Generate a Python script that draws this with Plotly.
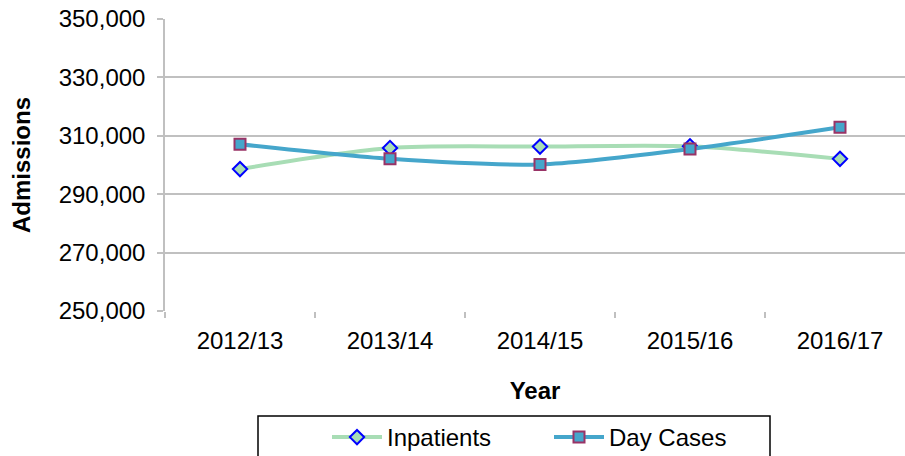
import plotly.graph_objects as go

years = ["2012/13", "2013/14", "2014/15", "2015/16", "2016/17"]
inpatients = [298600, 305800, 306300, 306400, 302100]
day_cases = [307100, 302100, 300200, 305500, 312900]
y_ticks = [250000, 270000, 290000, 310000, 330000, 350000]
y_tick_labels = ["250,000", "270,000", "290,000", "310,000", "330,000", "350,000"]

FONT = "Liberation Sans, Arial, sans-serif"
FS = 24

L, T, PH, PW = 165, 19, 292, 740

fig = go.Figure()
fig.add_trace(go.Scatter(
    x=years, y=inpatients, name="Inpatients", mode="lines+markers",
    line=dict(color="#a8ddb5", width=4, shape="spline", smoothing=0.8),
    marker=dict(symbol="diamond", size=11, color="#a8ddb5",
                line=dict(color="#0000ff", width=2)),
))
fig.add_trace(go.Scatter(
    x=years, y=day_cases, name="Day Cases", mode="lines+markers",
    line=dict(color="#45a6cb", width=4, shape="spline", smoothing=0.8),
    marker=dict(symbol="square", size=11, color="#45a6cb",
                line=dict(color="#993366", width=2)),
))

# legend frame (paper coords relative to plot area)
fig.add_shape(type="rect", xref="paper", yref="paper",
              x0=(258 - 165) / PW, x1=(770 - 165) / PW,
              y0=(311 - 416) / PH, y1=(311 - 470) / PH,
              line=dict(color="black", width=1.5), fillcolor="rgba(0,0,0,0)")

fig.update_layout(
    width=905, height=456,
    margin=dict(l=L, r=905 - L - PW, t=T, b=456 - T - PH, autoexpand=False),
    paper_bgcolor="white", plot_bgcolor="white",
    font=dict(family=FONT, size=FS, color="black"),
    showlegend=True,
    legend=dict(
        orientation="h", x=(327 - 165) / PW, xanchor="left", y=(311 - 415) / PH, yanchor="top",
        borderwidth=0, bgcolor="rgba(0,0,0,0)",
        font=dict(family=FONT, size=FS, color="black"),
        itemwidth=50, entrywidth=157, entrywidthmode="pixels", traceorder="normal",
    ),
)
fig.update_xaxes(
    type="category", automargin=False,
    range=[-0.5, -0.5 + 5 * PW / 750],  # plot area runs past the picture's right edge
    showgrid=False, showline=False, zeroline=False,
    ticks="outside", tickson="boundaries", ticklen=6, tickcolor="#c0c0c0", tickwidth=1.5,
    ticklabelstandoff=13,
    tickfont=dict(family=FONT, size=FS, color="black"),
    title=dict(text="<b>Year</b>", font=dict(family=FONT, size=FS, color="black"), standoff=29),
)
fig.update_yaxes(
    range=[250000, 350000], tickvals=y_ticks, ticktext=y_tick_labels, automargin=False,
    showgrid=True, gridcolor="#c0c0c0", gridwidth=1.5,
    showline=True, linecolor="#c0c0c0", linewidth=1.5, zeroline=False,
    ticks="outside", ticklen=6, tickcolor="#c0c0c0", tickwidth=1.5,
    ticklabelstandoff=7, ticklabeloverflow="allow",
    tickfont=dict(family=FONT, size=FS, color="black"),
    title=dict(text="<b>Admissions</b>", font=dict(family=FONT, size=FS, color="black"), standoff=21),
)

fig.write_html("out.html", config={"displayModeBar": False},
               post_script="document.body.style.margin='0';")
